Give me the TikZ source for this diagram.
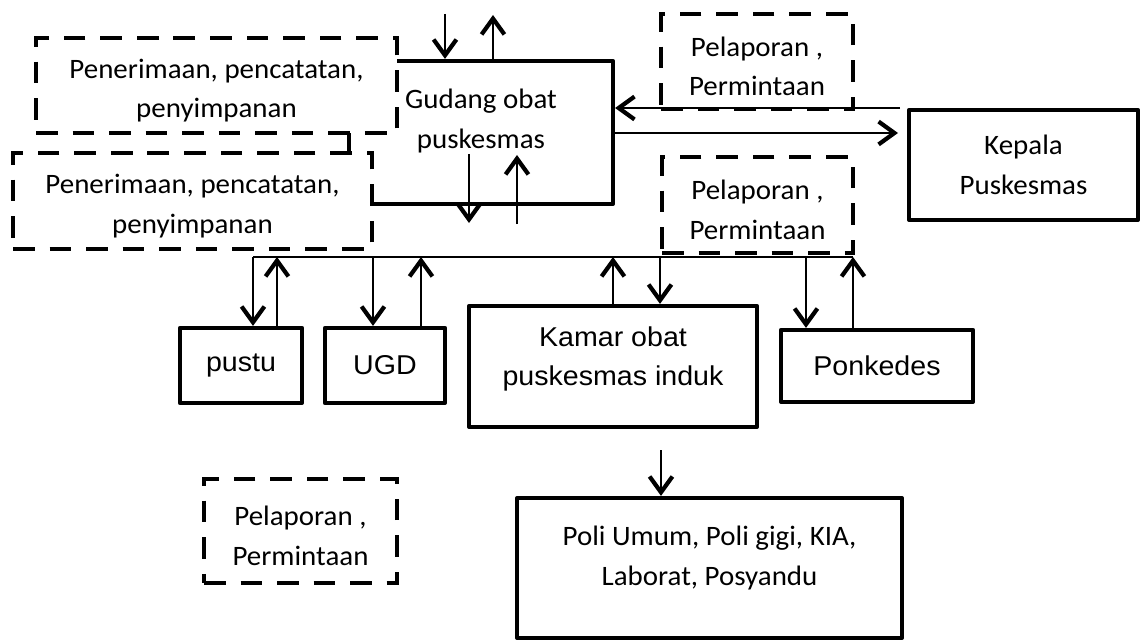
\documentclass[tikz,border=0pt]{standalone}
\usepackage{fontspec}
\usepackage{tikz}
\usetikzlibrary{arrows.meta}
\newfontfamily\calfont[FakeStretch=1.03]{Carlito}
\newfontfamily\arifont[FakeStretch=1.05]{Liberation Sans}

\begin{document}
\begin{tikzpicture}[x=0.02cm,y=-0.02cm,
          box/.style={draw,line width=2.4pt,fill=white,inner sep=0pt,align=center,line join=round},
          dbox/.style={draw,line width=2.8pt,dash pattern=on 12.3pt off 8.5pt,fill=white,inner sep=0pt},
          cal/.style={font=\calfont\fontsize{16pt}{22.5pt}\selectfont},
          ari/.style={font=\arifont\fontsize{15.5pt}{22pt}\selectfont},
          dtxt/.style={cal,align=center,yshift=-0.1cm},
          arr/.style={line width=1pt,-{Straight Barb[length=9pt,width=13pt,line width=2.4pt]}}]
          \useasboundingbox (0,0) rectangle (1143,642);

          \node (gudang) [box,minimum width=5.28cm,minimum height=2.86cm] at (481,132.5) {};
          \node (gudangtxt) [cal,align=center] at (481,121) {Gudang obat\\puskesmas};
          \node (pen1) [dbox,minimum width=7.22cm,minimum height=1.9cm,
            label={[dtxt,name=pen1txt]center:Penerimaan, pencatatan,\\penyimpanan}] at (216.5,85.5) {};
          \node (pen2) [dbox,minimum width=7.18cm,minimum height=1.92cm,
            label={[dtxt,name=pen2txt]center:Penerimaan, pencatatan,\\penyimpanan}] at (192.5,201) {};
          \node (lap1) [dbox,minimum width=3.84cm,minimum height=1.9cm,
            label={[dtxt,name=lap1txt]center:Pelaporan ,\\Permintaan}] at (757,61.5) {};
          \node (lap2) [dbox,minimum width=3.82cm,minimum height=1.92cm,
            label={[dtxt,name=lap2txt]center:Pelaporan ,\\Permintaan}] at (757.5,205) {};
          \node (lap3) [dbox,minimum width=3.86cm,minimum height=2.08cm,
            label={[dtxt,name=lap3txt]center:Pelaporan ,\\Permintaan}] at (300.5,531) {};
          \node (kepala) [box,cal,minimum width=4.58cm,minimum height=2.2cm] at (1023.5,165) {Kepala\\Puskesmas};
          \node (pustu) [box,ari,minimum width=2.44cm,minimum height=1.5cm] at (241,365.5) {pustu};
          \node (ugd) [box,ari,minimum width=2.4cm,minimum height=1.5cm] at (385,365.5) {UGD};
          \node (kamar) [box,minimum width=5.76cm,minimum height=2.42cm] at (613,366.5) {};
          \node (kamartxt) [ari,align=center] at (613,359) {Kamar obat\\puskesmas induk};
          \node (ponkedes) [box,ari,minimum width=3.84cm,minimum height=1.44cm] at (877,366) {Ponkedes};
          \node (poli) [box,minimum width=7.7cm,minimum height=2.8cm] at (709.5,568) {};
          \node (politxt) [cal,align=center] at (709.5,558) {Poli Umum, Poli gigi, KIA,\\Laborat, Posyandu};

          \coordinate (g1) at (445,14);
          \coordinate (g2) at (493,15);
          \coordinate (g3) at (469,154);
          \coordinate (g4) at (469,223);
          \coordinate (g5) at (517,224);
          \coordinate (g6) at (517,155);
          \draw[arr] (g1) -- (g1 |- gudang.north);
          \draw[arr] (g2 |- gudang.north) -- (g2);
          \draw[arr] (g3) -- (g4);
          \draw[arr] (g5) -- (g6);

          \coordinate (k1) at (900,108);
          \coordinate (k2) at (898,133);
          \draw[arr] (k1) -- (k1 -| gudang.east);
          \draw[arr] (k2 -| gudang.east) -- (k2);

          \coordinate (busl) at (253,257);
          \coordinate (busr) at (853,257);
          \draw[line width=1pt] (busl) -- (busr);
          \foreach \x/\n in {253/pustu,373/ugd,660/kamar,806/ponkedes}
            \draw[arr] (\x,0 |- busl) -- (\x,0 |- \n.north);
          \foreach \x/\n in {277/pustu,421/ugd,613/kamar,853/ponkedes}
            \draw[arr] (\x,0 |- \n.north) -- (\x,0 |- busl);

          \coordinate (p1) at (661,450);
          \draw[arr] (p1) -- (p1 |- poli.north);
        \end{tikzpicture}
\end{document}
